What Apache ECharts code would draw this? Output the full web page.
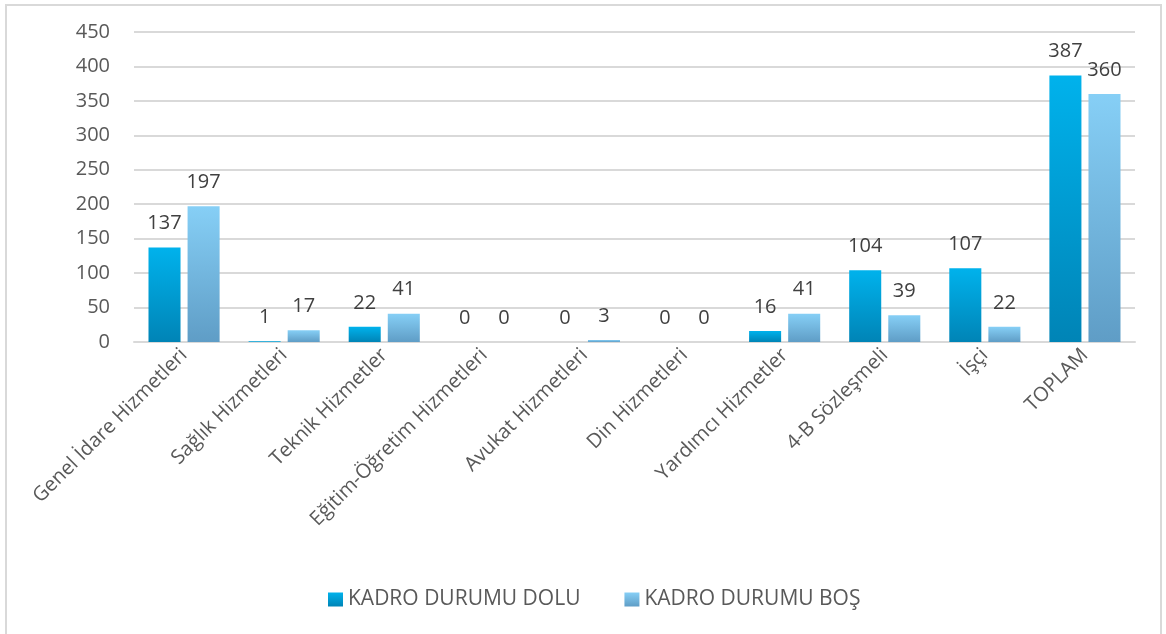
<!DOCTYPE html>
<html>
<head>
<meta charset="utf-8">
<script src="https://cdn.jsdelivr.net/npm/echarts@6/dist/echarts.min.js"></script>
<style>
html,body{margin:0;padding:0;background:#fff;overflow:hidden;}
#frame{position:absolute;left:5px;top:4px;width:1157px;height:650px;border:2px solid #d9d9d9;box-sizing:border-box;pointer-events:none;}
#chart{position:absolute;left:0;top:0;width:1166px;height:634px;}
</style>
</head>
<body>
<div id="chart"></div>
<div id="frame"></div>
<script>
const categories = ["Genel İdare Hizmetleri","Sağlık Hizmetleri","Teknik Hizmetler","Eğitim-Öğretim Hizmetleri","Avukat Hizmetleri","Din Hizmetleri","Yardımcı Hizmetler","4-B Sözleşmeli","İşçi","TOPLAM"];
const seriesNames = ["KADRO DURUMU DOLU","KADRO DURUMU BOŞ"];
const doluValues = [137,1,22,0,0,0,16,104,107,387];
const bosValues = [197,17,41,0,3,0,41,39,22,360];
const yTicks = [0,50,100,150,200,250,300,350,400,450];

const font = "'Open Sans', 'Noto Sans', sans-serif";
const chart = echarts.init(document.getElementById('chart'), null, {renderer:'canvas'});

function grad(c1,c2){
  return new echarts.graphic.LinearGradient(0,0,0,1,[{offset:0,color:c1},{offset:1,color:c2}]);
}

const labelCfg = {show:true,position:'top',distance:14,color:'#404040',fontSize:20,fontFamily:font};

chart.setOption({
  animation:false,
  grid:{left:134,right:31,top:32,bottom:292,containLabel:false},
  legend:{
    bottom:19,left:323,itemWidth:15,itemHeight:14,itemGap:44,icon:'rect',
    textStyle:{color:'#595959',fontSize:21,fontFamily:font},
    data:seriesNames
  },
  xAxis:{
    type:'category',data:categories,
    axisLine:{lineStyle:{color:'#d9d9d9',width:2}},
    axisTick:{show:false},
    axisLabel:{rotate:45,color:'#595959',fontSize:20,fontFamily:font,interval:0,margin:10}
  },
  yAxis:{
    type:'value',min:yTicks[0],max:yTicks[yTicks.length-1],interval:50,
    axisLine:{show:false},axisTick:{show:false},
    axisLabel:{color:'#595959',fontSize:20,fontFamily:font,margin:24},
    splitLine:{lineStyle:{color:'#d9d9d9',width:2}}
  },
  series:[
    {name:seriesNames[0],type:'bar',data:doluValues,barWidth:'32%',barGap:'22%',
     itemStyle:{color:grad('#00b2ec','#0084b6'),borderWidth:0},
     label:labelCfg},
    {name:seriesNames[1],type:'bar',data:bosValues,barWidth:'32%',barGap:'22%',
     itemStyle:{color:grad('#86cff6','#5f9dc6'),borderWidth:0},
     label:labelCfg}
  ]
});
</script>
</body>
</html>
